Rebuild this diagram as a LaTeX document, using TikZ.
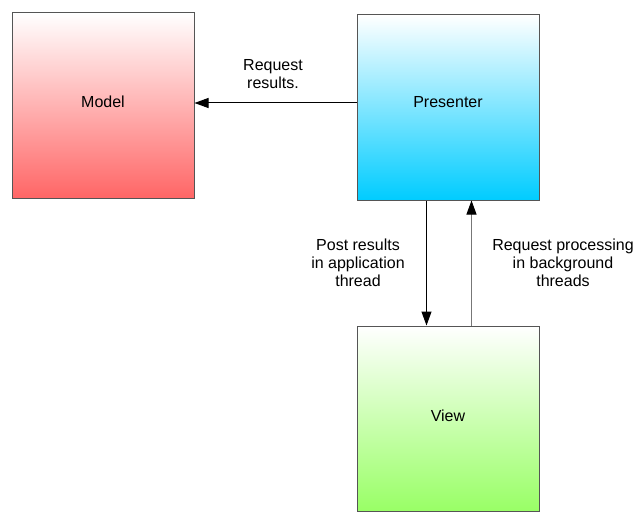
\documentclass[tikz,border=0pt]{standalone}
\usepackage{fontspec}
\setmainfont{Liberation Sans}
\usetikzlibrary{arrows.meta}
\definecolor{redend}{HTML}{FF6666}
\definecolor{cyanend}{HTML}{00CCFF}
\definecolor{greenend}{HTML}{99FF66}
\definecolor{edge}{HTML}{555555}
\definecolor{upline}{HTML}{777777}
\tikzset{
  box/.style={draw=edge, line width=1pt, minimum width=182pt, minimum height=185pt, inner sep=0pt, font=\fontsize{16}{18}\selectfont},
  conn/.style={line width=1pt, -{Triangle[length=14pt,width=10pt,color=black]}},
  lbl/.style={align=center, font=\fontsize{16}{18}\selectfont, inner sep=0pt}
}
\begin{document}
\begin{tikzpicture}[x=1pt,y=-1pt]
\useasboundingbox[fill=white] (0,0) rectangle (643,527);
\node[box, top color=white, bottom color=redend, text depth=8pt] (model) at (103,105.5) {Model};
\node[box, top color=white, bottom color=cyanend, text depth=12pt] (presenter) at (448,107.5) {Presenter};
\node[box, top color=white, bottom color=greenend, text depth=6pt] (view) at (448,418.5) {View};
\draw[conn] (presenter.west |- 0,103) -- (model.east |- 0,103);
\draw[conn] (presenter.south -| 426.5,0) -- (view.north -| 426.5,0);
\draw[conn, draw=upline] (view.north -| 471.5,0) -- (presenter.south -| 471.5,0);
\node[lbl] (l1) at (273,74) {Request\\results.};
\node[lbl] (l2) at (358,263) {Post results\\in application\\thread};
\node[lbl] (l3) at (563,263) {Request processing\\in background\\threads};
\end{tikzpicture}
\end{document}
